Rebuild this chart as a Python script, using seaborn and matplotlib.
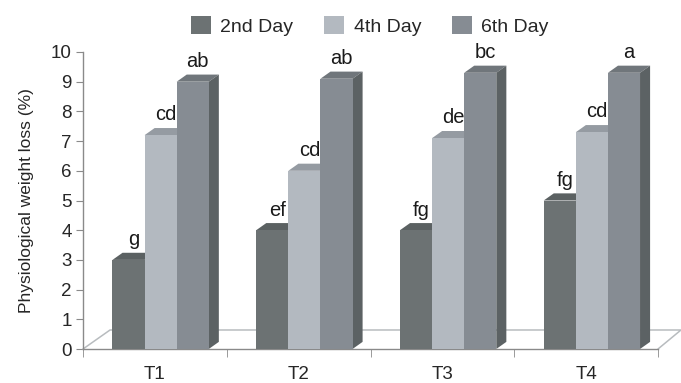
import numpy as np
import pandas as pd
import matplotlib
matplotlib.use("Agg")
import matplotlib.pyplot as plt
from matplotlib.patches import Polygon
from matplotlib.lines import Line2D
import seaborn as sns

# data
treatments = ["T1", "T2", "T3", "T4"]
days = ["2nd Day", "4th Day", "6th Day"]
day2 = [3.0, 4.0, 4.0, 5.0]
day4 = [7.2, 6.0, 7.1, 7.3]
day6 = [9.0, 9.1, 9.3, 9.3]
letters2 = ["g", "ef", "fg", "fg"]
letters4 = ["cd", "cd", "de", "cd"]
letters6 = ["ab", "ab", "bc", "a"]

front_cols = ["#6c7273", "#b3b9c0", "#868c93"]
top_cols = ["#5b6162", "#959ba2", "#70767b"]
side_col = "#5c6264"

df = pd.DataFrame({
    "treatment": treatments * 3,
    "day": [d for d in days for _ in treatments],
    "loss": day2 + day4 + day6,
    "letter": letters2 + letters4 + letters6,
})

sns.set_style("white")
plt.rcParams["font.family"] = ["Liberation Sans", "DejaVu Sans"]

fig = plt.figure(figsize=(6.81, 3.83), dpi=100)
ax = fig.add_axes([83 / 681, 34 / 383, 575 / 681, 297 / 383])

sns.barplot(data=df, x="treatment", y="loss", hue="day", palette=front_cols,
            width=0.67, saturation=1, linewidth=0, ax=ax, legend=False, zorder=3)

ax.set_xlim(-0.5, 3.5)
ax.set_ylim(0, 10)

# pseudo 3D depth of the bars (data units)
dx, dy = 0.07, 0.24
shift = 0.04  # bars sit a bit into the floor, so they look shifted right
bars = [p for p in ax.patches if p.get_height() > 0]
for i, p in enumerate(bars):
    hue_i = i // len(treatments)
    p.set_x(p.get_x() + shift)
    x0, w, h = p.get_x(), p.get_width(), p.get_height()
    top = Polygon([(x0, h), (x0 + dx, h + dy), (x0 + w + dx, h + dy), (x0 + w, h)],
                  closed=True, facecolor=top_cols[hue_i], edgecolor="none", zorder=2)
    side = Polygon([(x0 + w, 0), (x0 + w + dx, dy), (x0 + w + dx, h + dy), (x0 + w, h)],
                   closed=True, facecolor=side_col, edgecolor="none", zorder=2)
    ax.add_patch(top)
    ax.add_patch(side)
    ax.text(x0 + w / 2 + dx / 2, h + dy + 0.12, df["letter"].iloc[i],
            ha="center", va="bottom", fontsize=14.5, color="#1a1a1a")

# floor outline
fx, fy = 0.047, 0.064
floor_col = "#b8bcbf"
ax.add_line(Line2D([0, fx, 1.04, 1.0], [0, fy, fy, 0], transform=ax.transAxes,
                   color=floor_col, lw=1.1, clip_on=False, zorder=1))

# axes styling
for s in ["top", "right"]:
    ax.spines[s].set_visible(False)
for s in ["left", "bottom"]:
    ax.spines[s].set_color("#8a8a8a")
    ax.spines[s].set_linewidth(1.0)

ax.set_yticks(range(0, 11))
ax.tick_params(axis="y", direction="out", length=5, color="#8a8a8a",
               labelsize=13.5, pad=3, left=True)
ax.set_xticks(np.arange(-0.5, 4, 1.0), minor=True)
ax.tick_params(axis="x", which="minor", direction="out", length=6, color="#8a8a8a", bottom=True)
ax.tick_params(axis="x", which="major", length=0, labelsize=13.5, pad=12)
ax.set_xlabel("")
ax.set_ylabel("Physiological weight loss (%)", fontsize=12.5, labelpad=12)

handles = [plt.Rectangle((0, 0), 1, 1, facecolor=c, edgecolor="none") for c in front_cols]
fig.legend(handles, days, loc="center", bbox_to_anchor=(370 / 681, 1 - 26 / 383),
           ncol=3, frameon=False, fontsize=14, handlelength=1.0, handleheight=1.0,
           handletextpad=0.5, columnspacing=1.6)

fig.savefig("out.png", dpi=100)
